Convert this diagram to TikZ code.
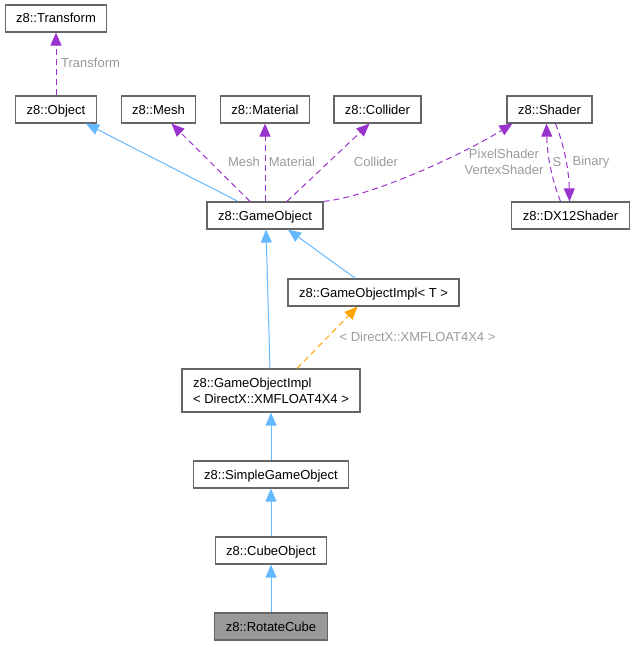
\documentclass[tikz,border=0pt]{standalone}
\usepackage{fontspec}
\setmainfont{Liberation Sans}
\usetikzlibrary{arrows.meta,positioning,calc}
\definecolor{EdgeBlue}{HTML}{63B8FF}
\definecolor{EdgePurple}{HTML}{9A32CD}
\definecolor{EdgeOrange}{HTML}{FFA500}
\definecolor{BoxLine}{HTML}{666666}
\definecolor{LabelGray}{HTML}{9A9A9A}
\definecolor{Current}{HTML}{999999}

\begin{document}
\begin{tikzpicture}[x=1pt,y=-1pt,
      cls/.style={draw=BoxLine,fill=white,line width=1.2pt,minimum height=27pt,
        inner xsep=11pt,inner ysep=0pt,text height=9.5pt,text depth=0.5pt,
        font=\fontsize{13}{16}\selectfont},
      inherit/.style={EdgeBlue,line width=1pt,-{Triangle[length=13pt,width=11pt]}},
      usage/.style={EdgePurple,line width=1pt,dash pattern=on 6pt off 4pt,
        -{Triangle[length=13pt,width=11pt]}},
      tmpl/.style={EdgeOrange,line width=1pt,dash pattern=on 6pt off 4pt,
        -{Triangle[length=13pt,width=11pt]}},
      lbl/.style={text=LabelGray,inner sep=0pt,font=\fontsize{13}{16}\selectfont}
    ]
      \useasboundingbox (0,0) rectangle (635,645);
      % classes
      \node[cls] (transform) at (56,18.5) {z8::Transform};
      \node[cls] (object) at (56,109.5) {z8::Object};
      \node[cls] (mesh) at (158.5,109.5) {z8::Mesh};
      \node[cls] (material) at (265,109.5) {z8::Material};
      \node[cls] (collider) at (377.5,109.5) {z8::Collider};
      \node[cls] (shader) at (549.5,109.5) {z8::Shader};
      \node[cls] (gameobj) at (265,215.5) {z8::GameObject};
      \node[cls] (dxshader) at (570.5,215.5) {z8::DX12Shader};
      \node[cls] (implT) at (373.5,292.5) {z8::GameObjectImpl< T >};
      \node[cls,align=left,minimum height=43pt,text height=,text depth=] (implDX) at (271,390.5)
        {z8::GameObjectImpl\\< DirectX::XMFLOAT4X4 >};
      \node[cls] (simple) at (271,474.5) {z8::SimpleGameObject};
      \node[cls] (cube) at (271,550.5) {z8::CubeObject};
      \node[cls,fill=Current] (rotate) at (271,626.5) {z8::RotateCube};
      % usage edges
      \draw[usage] (object.north) -- (transform.south);
      \node[lbl,anchor=west] (lTransform) at (61,63) {Transform};
      \draw[usage] ([xshift=-15pt]gameobj.north) -- ([xshift=13pt]mesh.south);
      \node[lbl] (lMesh) at (244,162) {Mesh};
      \draw[usage] (gameobj.north) -- (material.south);
      \node[lbl] (lMaterial) at (292,162) {Material};
      \draw[usage] ([xshift=22pt]gameobj.north) -- ([xshift=-8pt]collider.south);
      \node[lbl] (lCollider) at (376,162) {Collider};
      \draw[usage] (gameobj.north east) .. controls (370,197) and (460,156) .. ([xshift=6pt]shader.south west);
      \node[lbl,align=center] (lShader) at (504,162) {PixelShader\\VertexShader};
      \draw[usage] ([xshift=-10pt]dxshader.north) .. controls (550,175) and (547,150) .. ([xshift=-3pt]shader.south);
      \node[lbl] (lS) at (557,162) {S};
      \draw[usage] ([xshift=6pt]shader.south) .. controls (566,150) and (569,175) .. ([xshift=-1pt]dxshader.north);
      \node[lbl] (lBinary) at (591,162) {Binary};
      % inheritance edges
      \draw[inherit] ([xshift=-27pt]gameobj.north) -- ([xshift=30pt]object.south);
      \draw[inherit] ([xshift=-18pt]implT.north) -- ([xshift=23pt]gameobj.south);
      \draw[inherit] ([xshift=-1pt]implDX.north) -- ([xshift=1pt]gameobj.south);
      \draw[tmpl] ([xshift=26pt]implDX.north) -- ([xshift=-16pt]implT.south);
      \node[lbl] (lTmpl) at (417.5,337) {< DirectX::XMFLOAT4X4 >};
      \draw[inherit] (simple) -- (implDX);
      \draw[inherit] (cube) -- (simple);
      \draw[inherit] (rotate) -- (cube);
    \end{tikzpicture}
\end{document}
